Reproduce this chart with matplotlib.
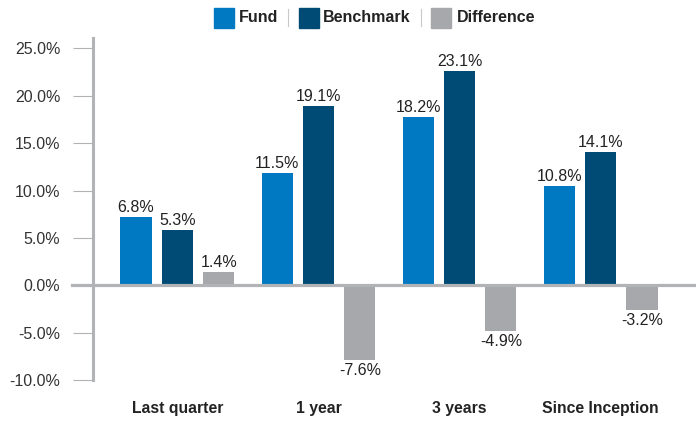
import numpy as np
import matplotlib
matplotlib.use('Agg')
import matplotlib.pyplot as plt
from matplotlib.patches import Rectangle

plt.rcParams['font.family'] = ['Liberation Sans', 'DejaVu Sans']

categories = ['Last quarter', '1 year', '3 years', 'Since Inception']
series = ['Fund', 'Benchmark', 'Difference']
fund = [7.2, 11.9, 17.8, 10.5]
bench = [5.8, 18.9, 22.6, 14.1]
diff = [1.4, -7.9, -4.8, -2.6]
fund_lbl = ['6.8%', '11.5%', '18.2%', '10.8%']
bench_lbl = ['5.3%', '19.1%', '23.1%', '14.1%']
diff_lbl = ['1.4%', '-7.6%', '-4.9%', '-3.2%']
yticks = [-10, -5, 0, 5, 10, 15, 20, 25]

colors = ['#0079c2', '#004b75', '#a7a8ac']
axis_grey = '#b1b3b6'
txt = '#222222'

W, H = 696, 422
fig = plt.figure(figsize=(W / 100, H / 100), dpi=100)
# axes box in pixels: left 93, right 696, top 38, bottom 380
ax = fig.add_axes([93 / W, (H - 380) / H, (696 - 93) / W, (380 - 38) / H])

x = np.arange(len(categories))
off = 0.294
width = 0.22
data = [fund, bench, diff]
lbls = [fund_lbl, bench_lbl, diff_lbl]
for i, (vals, labs) in enumerate(zip(data, lbls)):
    xs = x + (i - 1) * off
    ax.bar(xs, vals, width=width, color=colors[i], zorder=2)
    for xi, v, s in zip(xs, vals, labs):
        if v >= 0:
            ax.annotate(s, (xi, v), xytext=(0, 3.6), textcoords='offset points',
                        ha='center', va='baseline', fontsize=11.5, color=txt)
        else:
            ax.annotate(s, (xi, v), xytext=(0, -2.2), textcoords='offset points',
                        ha='center', va='top', fontsize=11.5, color=txt)

ax.set_xlim(-0.599, 3.677)
ax.set_ylim(-10, 26.1)

# zero line, reaching past the y axis like the ticks
ax.axhline(0, xmin=-20.5 / 603, xmax=1, color=axis_grey, lw=2.3, zorder=3, clip_on=False)

for s in ['top', 'right', 'bottom']:
    ax.spines[s].set_visible(False)
ax.spines['left'].set_color(axis_grey)
ax.spines['left'].set_linewidth(2.2)

ax.set_yticks(yticks)
ax.set_yticklabels(['{:.1f}%'.format(t) for t in yticks])
ax.tick_params(axis='y', length=14.4, width=0.8, color=axis_grey, pad=9,
               labelsize=11.5, labelcolor='#333333')
ax.set_xticks(x)
ax.set_xticklabels(categories, fontsize=11.3, fontweight='bold', color=txt)
ax.tick_params(axis='x', length=0, pad=15)

# legend drawn by hand with separators
sq_x = [214, 299, 431]
tx_x = [239, 323, 457]
for i, name in enumerate(series):
    fig.patches.append(Rectangle((sq_x[i] / W, (H - 28) / H), 20 / W, 20 / H,
                                 transform=fig.transFigure, color=colors[i]))
    fig.text(tx_x[i] / W, (H - 18) / H, name, fontsize=11.5, fontweight='bold',
             color=txt, ha='left', va='center')
for sx in [288, 421]:
    fig.add_artist(plt.Line2D([sx / W, sx / W], [(H - 26) / H, (H - 9) / H],
                              transform=fig.transFigure, color='#c8c8c8', lw=0.8))

fig.savefig('out.png', dpi=100)
